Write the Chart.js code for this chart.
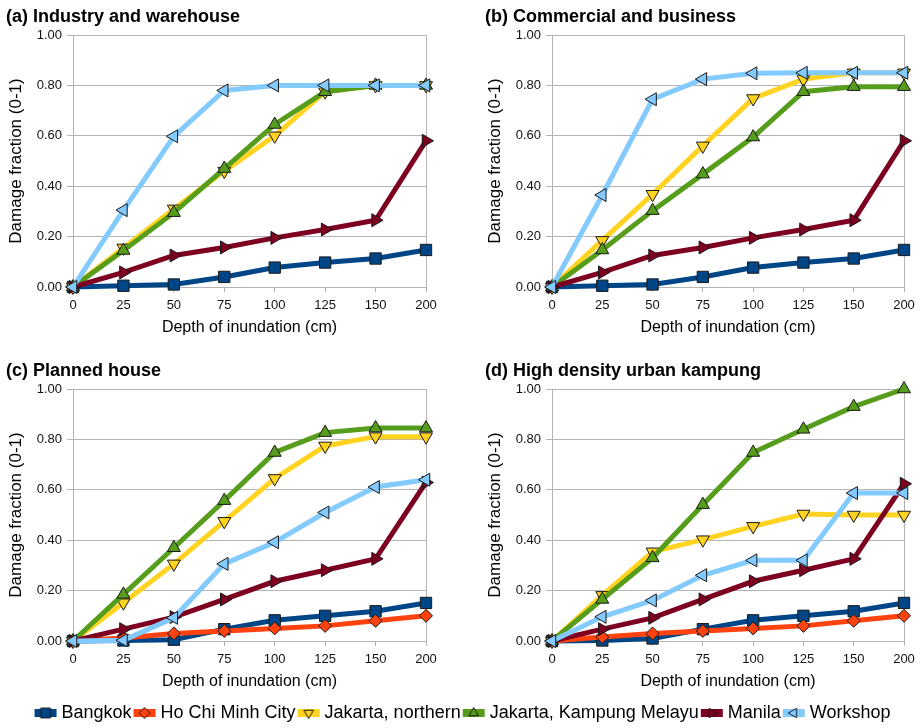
<!DOCTYPE html>
<html>
<head>
<meta charset="utf-8">
<title>Depth-damage curves</title>
<script src="https://cdn.jsdelivr.net/npm/chart.js@4.4.1/dist/chart.umd.min.js"></script>
<style>
  html, body { margin: 0; padding: 0; background: #fff; overflow: hidden; }
  body { width: 921px; height: 728px; position: relative; }
  .panel { position: absolute; }
</style>
</head>
<body>
<div class="panel" style="left:0;top:0;width:446px;height:340px"><canvas id="chart-a"></canvas></div>
<div class="panel" style="left:479px;top:0;width:442px;height:340px"><canvas id="chart-b"></canvas></div>
<div class="panel" style="left:0;top:354px;width:446px;height:340px"><canvas id="chart-c"></canvas></div>
<div class="panel" style="left:479px;top:354px;width:442px;height:340px"><canvas id="chart-d"></canvas></div>
<div class="panel" style="left:8px;top:698px;width:913px;height:30px"><canvas id="chart-legend"></canvas></div>

<script>
const depths = ["0", "25", "50", "75", "100", "125", "150", "200"];
const yTickLabels = ["0.00", "0.20", "0.40", "0.60", "0.80", "1.00"];
const seriesNames = ["Bangkok", "Ho Chi Minh City", "Jakarta, northern", "Jakarta, Kampung Melayu", "Manila", "Workshop"];

// (a) Industry and warehouse
const industryBangkok = [0, 0.005, 0.01, 0.04, 0.077, 0.097, 0.113, 0.147];
const industryJakartaNorth = [0, 0.155, 0.31, 0.46, 0.60, 0.775, 0.80, 0.80];
const industryKampungMelayu = [0, 0.145, 0.295, 0.47, 0.645, 0.775, 0.80, 0.80];
const industryManila = [0, 0.058, 0.125, 0.157, 0.195, 0.228, 0.265, 0.58];
const industryWorkshop = [0, 0.305, 0.598, 0.78, 0.80, 0.80, 0.80, 0.80];

// (b) Commercial and business
const commercialBangkok = [0, 0.005, 0.01, 0.04, 0.077, 0.097, 0.113, 0.147];
const commercialJakartaNorth = [0, 0.185, 0.368, 0.56, 0.748, 0.825, 0.85, 0.85];
const commercialKampungMelayu = [0, 0.147, 0.303, 0.448, 0.595, 0.775, 0.795, 0.795];
const commercialManila = [0, 0.058, 0.125, 0.157, 0.195, 0.228, 0.265, 0.58];
const commercialWorkshop = [0, 0.365, 0.745, 0.825, 0.848, 0.85, 0.85, 0.85];

// (c) Planned house
const plannedBangkok = [0, 0.002, 0.005, 0.047, 0.082, 0.10, 0.118, 0.151];
const plannedHoChiMinh = [0, 0.012, 0.03, 0.04, 0.05, 0.06, 0.08, 0.10];
const plannedJakartaNorth = [0, 0.152, 0.306, 0.475, 0.645, 0.774, 0.811, 0.811];
const plannedKampungMelayu = [0, 0.185, 0.37, 0.557, 0.748, 0.827, 0.845, 0.845];
const plannedManila = [0, 0.047, 0.095, 0.165, 0.237, 0.281, 0.326, 0.629];
const plannedWorkshop = [0, 0.003, 0.092, 0.306, 0.392, 0.51, 0.611, 0.64];

// (d) High density urban kampung
const kampungBangkok = [0, 0.002, 0.01, 0.047, 0.082, 0.10, 0.118, 0.151];
const kampungHoChiMinh = [0, 0.016, 0.03, 0.04, 0.05, 0.06, 0.08, 0.10];
const kampungJakartaNorth = [0, 0.181, 0.354, 0.402, 0.455, 0.504, 0.50, 0.50];
const kampungKampungMelayu = [0, 0.165, 0.33, 0.541, 0.748, 0.84, 0.93, 1.00];
const kampungManila = [0, 0.047, 0.092, 0.165, 0.237, 0.281, 0.326, 0.624];
const kampungWorkshop = [0, 0.096, 0.161, 0.261, 0.32, 0.32, 0.587, 0.587];

const FONT = "'Liberation Sans', Arial, sans-serif";
const GRID = "#b3b3b3";
Chart.defaults.font.family = FONT;

const seriesStyle = {
  "Bangkok": { color: "#004586", shape: "rect", rotation: 0, radius: 8 },
  "Ho Chi Minh City": { color: "#ff420e", shape: "rectRot", rotation: 0, radius: 6.5 },
  "Jakarta, northern": { color: "#ffd320", shape: "triangle", rotation: 180, radius: 7.5 },
  "Jakarta, Kampung Melayu": { color: "#579d1c", shape: "triangle", rotation: 0, radius: 7.5 },
  "Manila": { color: "#7e0021", shape: "triangle", rotation: 90, radius: 7.5 },
  "Workshop": { color: "#83caff", shape: "triangle", rotation: 270, radius: 7.5 },
};

function buildPanel(canvasId, title, names, values, padRight) {
  const datasets = names.map((name, i) => {
    const s = seriesStyle[name];
    return {
      label: name,
      data: values[i],
      borderColor: s.color,
      backgroundColor: s.color,
      borderWidth: 5,
      tension: 0,
      clip: false,
      pointStyle: s.shape,
      pointRotation: s.rotation,
      pointRadius: s.radius,
      pointBackgroundColor: s.color,
      pointBorderColor: "#1a1a1a",
      pointBorderWidth: 1,
      // later series are drawn on top
      order: seriesNames.length - seriesNames.indexOf(name),
    };
  });

  return new Chart(document.getElementById(canvasId), {
    type: "line",
    data: { labels: depths, datasets: datasets },
    options: {
      responsive: true,
      maintainAspectRatio: false,
      animation: false,
      events: [],
      layout: { padding: { left: 6, right: padRight, top: 0, bottom: 0 } },
      plugins: {
        legend: { display: false },
        tooltip: { enabled: false },
        title: {
          display: true,
          text: title,
          align: "start",
          color: "#000",
          font: { size: 18, weight: "bold" },
          padding: { top: 6, bottom: 7.4 },
        },
      },
      scales: {
        x: {
          offset: false,
          grid: { drawOnChartArea: false, drawTicks: true, tickLength: 5, color: GRID },
          border: { color: GRID },
          ticks: { color: "#111", font: { size: 13 }, padding: 6, maxRotation: 0, autoSkip: false },
          title: {
            display: true,
            text: "Depth of inundation (cm)",
            color: "#000",
            font: { size: 16 },
            padding: { top: 0, bottom: 3 },
          },
          afterFit: (scale) => { scale.height = 53; },
        },
        y: {
          min: 0,
          max: 1,
          grid: { color: GRID, tickLength: 6 },
          border: { color: GRID },
          ticks: {
            stepSize: 0.2,
            color: "#111",
            font: { size: 13 },
            padding: 5,
            callback: (value, index) => yTickLabels[index],
          },
          title: {
            display: true,
            text: "Damage fraction (0-1)",
            color: "#000",
            font: { size: 17 },
            padding: { top: 0, bottom: 0 },
          },
          afterFit: (scale) => { scale.width = 67; },
        },
        yRight: {
          position: "right",
          min: 0,
          max: 1,
          ticks: { display: false },
          grid: { drawOnChartArea: false, drawTicks: false },
          border: { color: GRID },
          afterFit: (scale) => { scale.width = 0; },
        },
      },
    },
  });
}

buildPanel("chart-a", "(a) Industry and warehouse",
  ["Bangkok", "Jakarta, northern", "Jakarta, Kampung Melayu", "Manila", "Workshop"],
  [industryBangkok, industryJakartaNorth, industryKampungMelayu, industryManila, industryWorkshop], 20);

buildPanel("chart-b", "(b) Commercial and business",
  ["Bangkok", "Jakarta, northern", "Jakarta, Kampung Melayu", "Manila", "Workshop"],
  [commercialBangkok, commercialJakartaNorth, commercialKampungMelayu, commercialManila, commercialWorkshop], 17);

buildPanel("chart-c", "(c) Planned house", seriesNames,
  [plannedBangkok, plannedHoChiMinh, plannedJakartaNorth, plannedKampungMelayu, plannedManila, plannedWorkshop], 20);

buildPanel("chart-d", "(d) High density urban kampung", seriesNames,
  [kampungBangkok, kampungHoChiMinh, kampungJakartaNorth, kampungKampungMelayu, kampungManila, kampungWorkshop], 17);

// legend symbols: short thick line with the marker on it
function markerPath(g, shape, rotation, x, y, r) {
  g.beginPath();
  if (shape === "rect") {
    const h = r * Math.SQRT1_2;
    g.rect(x - h, y - h, 2 * h, 2 * h);
  } else if (shape === "rectRot") {
    g.moveTo(x, y - r); g.lineTo(x + r, y); g.lineTo(x, y + r); g.lineTo(x - r, y);
    g.closePath();
  } else {
    let a = rotation * Math.PI / 180;
    for (let k = 0; k < 3; k++) {
      const px = x + Math.sin(a) * r, py = y - Math.cos(a) * r;
      if (k === 0) g.moveTo(px, py); else g.lineTo(px, py);
      a += 2 * Math.PI / 3;
    }
    g.closePath();
  }
}

function legendIcon(name) {
  const s = seriesStyle[name];
  const c = document.createElement("canvas");
  c.width = 24;
  c.height = 14;
  const g = c.getContext("2d");
  g.fillStyle = s.color;
  g.fillRect(1, 3, 22, 8);
  markerPath(g, s.shape, s.rotation, 12, 7, s.shape === "rect" ? 7 : 5.5);
  g.fillStyle = s.color;
  g.fill();
  g.lineWidth = 1;
  g.strokeStyle = "#1a1a1a";
  g.stroke();
  return c;
}

new Chart(document.getElementById("chart-legend"), {
  type: "line",
  data: {
    labels: [],
    datasets: seriesNames.map((name) => ({
      label: name,
      data: [],
      borderColor: seriesStyle[name].color,
      backgroundColor: seriesStyle[name].color,
      pointStyle: legendIcon(name),
    })),
  },
  options: {
    responsive: true,
    maintainAspectRatio: false,
    animation: false,
    events: [],
    layout: { padding: 0 },
    scales: { x: { display: false }, y: { display: false } },
    plugins: {
      tooltip: { enabled: false },
      legend: {
        display: true,
        position: "top",
        maxHeight: 40,
        labels: {
          usePointStyle: true,
          pointStyleWidth: 14,
          padding: 6,
          color: "#000",
          font: { size: 18 },
        },
      },
    },
  },
});
</script>
</body>
</html>
